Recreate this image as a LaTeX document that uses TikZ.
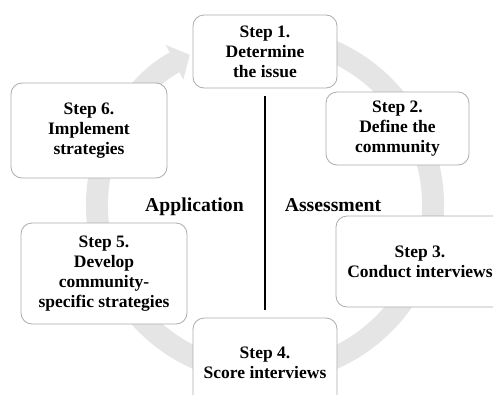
\documentclass[tikz,border=0pt]{standalone}
\usepackage{fontspec}
\setmainfont{Liberation Serif}
\usetikzlibrary{arrows.meta}

\begin{document}
\begin{tikzpicture}[x=1pt, y=-1pt,
    stepbox/.style={draw=gray!65, line width=0.8pt, fill=white, rounded corners=11pt,
        align=center, inner sep=0pt, font=\bfseries\fontsize{17.5}{20}\selectfont},
    phase/.style={anchor=base, font=\bfseries\fontsize{19.7}{22}\selectfont}]
    \useasboundingbox (0,0) rectangle (493,394);
    % the cycle ring
    \draw[line width=22pt, gray!20, -{Triangle[length=17pt, width=38pt]}]
        (265,205) ++(80:168pt) arc[start angle=80, end angle=-243.4, radius=168pt];
    \node [stepbox, minimum width=144pt, minimum height=73pt] (s1) at (265,51.5) {Step 1.\\Determine\\the issue};
    \node [stepbox, minimum width=143pt, minimum height=73pt] (s2) at (397.5,128.5) {Step 2.\\Define the\\community};
    \node [stepbox, minimum width=168pt, minimum height=91pt] (s3) at (420,261.5) {Step 3.\\Conduct interviews};
    \node [stepbox, minimum width=144pt, minimum height=90pt] (s4) at (265,363) {Step 4.\\Score interviews};
    \node [stepbox, minimum width=166pt, minimum height=101pt] (s5) at (104,273.5) {Step 5.\\Develop\\community-\\specific strategies};
    \node [stepbox, minimum width=156pt, minimum height=95pt] (s6) at (89,130.5) {Step 6.\\Implement\\strategies};
    % divider and phases
    \coordinate (divtop) at (265,96);
    \coordinate (divbot) at (265,310);
    \draw [line width=2pt] (divtop) -- (divbot);
    \node [phase] (app) at (194.5,211) {Application};
    \node [phase] (ass) at (333,211) {Assessment};
\end{tikzpicture}
\end{document}
